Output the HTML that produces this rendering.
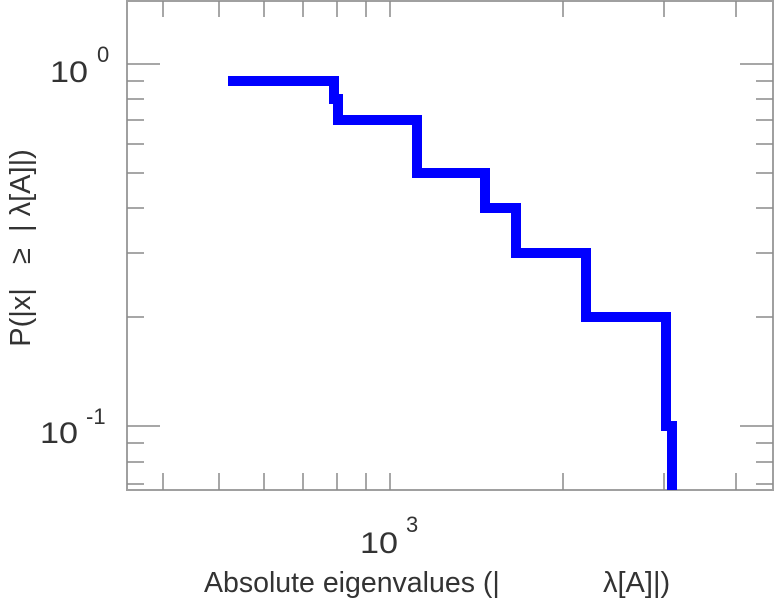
<!DOCTYPE html>
<html><head><meta charset="utf-8"><style>
body{margin:0;background:#fff}
svg{display:block;font-family:"Liberation Sans",sans-serif}
</style></head><body>
<svg width="775" height="600" viewBox="0 0 775 600" xmlns="http://www.w3.org/2000/svg">
<rect x="127" y="1" width="646" height="489" fill="none" stroke="#a0a0a0" stroke-width="2"/>
<g stroke="#8a8a8a" stroke-width="1.5">
<path d="M163,1v16M219,1v16M264,1v16M303,1v16M337,1v16M366,1v16M390,1v16M563,1v16M664,1v16M736,1v16"/>
<path d="M163,490v-17M219,490v-17M264,490v-17M303,490v-17M337,490v-17M366,490v-17M390,490v-17M563,490v-17M664,490v-17M736,490v-17"/>
<path d="M127,64h33M127,426h33M127,81h17M127,99h17M127,120h17M127,144h17M127,173h17M127,208h17M127,253h17M127,317h17M127,443h17M127,462h17M127,484h17"/>
<path d="M773,64h-33M773,426h-33M773,81h-17M773,99h-17M773,120h-17M773,144h-17M773,173h-17M773,208h-17M773,253h-17M773,317h-17M773,443h-17M773,462h-17M773,484h-17"/>
</g>
<polyline fill="none" stroke="#0000ff" stroke-width="10" stroke-linejoin="miter" points="228,81 334,81 334,99 338,99 338,120 417,120 417,173 485,173 485,208 516,208 516,253 586,253 586,317 666,317 666,426 672,426 672,490"/>
<g fill="#333" font-size="30">
<text x="50" y="82" textLength="38" lengthAdjust="spacingAndGlyphs">10</text><text x="97" y="62" font-size="22">0</text>
<text x="40" y="443" textLength="38" lengthAdjust="spacingAndGlyphs">10</text><text x="86" y="424" font-size="22">-1</text>
<text x="360" y="553" textLength="38" lengthAdjust="spacingAndGlyphs">10</text><text x="406" y="532" font-size="22">3</text>
<text x="204" y="592" font-size="28.5">Absolute eigenvalues (|</text>
<text x="603" y="592" font-size="29">λ[A]|)</text>
<text transform="translate(30,248) rotate(-90)" text-anchor="middle" font-size="29" xml:space="preserve">P(|x|   ≥  | λ[A]|)</text>
</g>
</svg>
</body></html>
